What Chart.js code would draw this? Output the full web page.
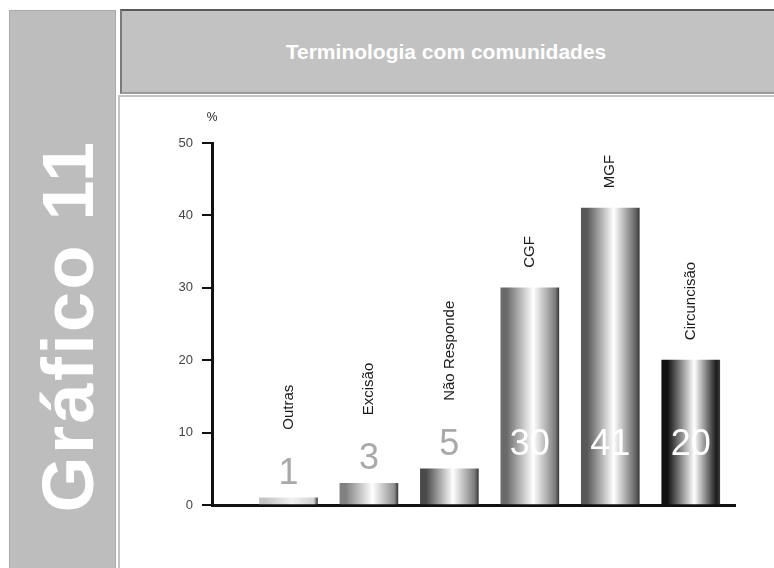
<!DOCTYPE html>
<html>
<head>
<meta charset="utf-8">
<script src="https://cdn.jsdelivr.net/npm/chart.js@4"></script>
<style>
  body { margin: 0; width: 774px; height: 568px; background: #fff; overflow: hidden; position: relative; font-family: "Liberation Sans", Arial, sans-serif; }
  #side { position: absolute; left: 9px; top: 10px; width: 105px; height: 570px; background: #bdbdbd; border: 1px solid #a9a9a9; }
  #sideText { position: absolute; left: 68px; top: 326px; transform: translate(-50%, -50%) rotate(-90deg); color: #fff; font-weight: bold; font-size: 72px; letter-spacing: 2.5px; white-space: nowrap; }
  #titleBar { position: absolute; left: 120px; top: 9px; width: 660px; height: 81px; background: #c2c2c2; border-top: 2px solid #5a5a5a; border-left: 2px solid #7a7a7a; border-bottom: 2px solid #9a9a9a; color: #fff; font-weight: bold; font-size: 21px; text-align: center; line-height: 81px; }
  #titleBar span { position: relative; left: -6px; }
  #panel { position: absolute; left: 118px; top: 95px; width: 670px; height: 480px; border-left: 2px solid #c4c4c4; border-top: 2px solid #c4c4c4; }
  #wrap { position: absolute; left: 121px; top: 98px; width: 653px; height: 470px; }
</style>
</head>
<body>
<div id="side"></div>
<div id="sideText">Gráfico 11</div>
<div id="titleBar"><span>Terminologia com comunidades</span></div>
<div id="panel"></div>
<div id="wrap"><canvas id="myChart" width="653" height="470"></canvas></div>
<script>
const labels = ['Outras', 'Excisão', 'Não Responde', 'CGF', 'MGF', 'Circuncisão'];
const values = [1, 3, 5, 30, 41, 20];
const yTicks = [0, 10, 20, 30, 40, 50];
const unitLabel = '%';

// edge shades of each cylinder-like bar (left, middle, right)
const leftShade = ['#c4c4c4', '#808080', '#4a4a4a', '#6a6a6a', '#585858', '#111111'];
const midShade = ['#f2f2f2', '#ffffff', '#ffffff', '#ffffff', '#ffffff', '#ffffff'];
const rightShade = ['#d2d2d2', '#8e8e8e', '#7a7a7a', '#7c7c7c', '#636363', '#1c1c1c'];

const BAR_W = 58;
const ctx = document.getElementById('myChart').getContext('2d');

function barFill(c) {
  const i = c.dataIndex;
  const chart = c.chart;
  if (!chart.chartArea || i === undefined) return leftShade[i] || '#888';
  const cx = chart.scales.x.getPixelForValue(i);
  const g = chart.ctx.createLinearGradient(cx - BAR_W / 2, 0, cx + BAR_W / 2, 0);
  g.addColorStop(0, leftShade[i]);
  g.addColorStop(0.1, leftShade[i]);
  g.addColorStop(0.56, midShade[i]);
  g.addColorStop(0.94, rightShade[i]);
  g.addColorStop(1, '#3a3a3a');
  return g;
}

const barLabels = {
  id: 'barLabels',
  afterDatasetsDraw(chart) {
    const c = chart.ctx;
    const yScale = chart.scales.y;
    const base = yScale.getPixelForValue(0);
    const meta = chart.getDatasetMeta(0);
    meta.data.forEach((bar, i) => {
      const top = bar.y;
      const inside = base - top > 90;
      const numBase = inside ? base - 50 : top - 14;
      c.save();
      c.font = '36px "Liberation Sans", Arial, sans-serif';
      c.textAlign = 'center';
      c.textBaseline = 'alphabetic';
      c.fillStyle = inside ? '#ffffff' : '#a9a9a9';
      c.fillText(String(values[i]), bar.x, numBase);
      const start = inside ? top - 20 : numBase - 26 - 28;
      c.translate(bar.x, start);
      c.rotate(-Math.PI / 2);
      c.font = '15px "Liberation Sans", Arial, sans-serif';
      c.fillStyle = '#1a1a1a';
      c.textAlign = 'left';
      c.textBaseline = 'middle';
      c.fillText(labels[i], 0, 0);
      c.restore();
    });
    // unit above the y axis
    c.save();
    c.font = '12px "Liberation Sans", Arial, sans-serif';
    c.fillStyle = '#222';
    c.textAlign = 'center';
    c.textBaseline = 'middle';
    c.fillText(unitLabel, chart.chartArea.left, yScale.getPixelForValue(50) - 25);
    c.restore();
  }
};

const data = {
  datasets: [{
    data: values.map((v, i) => ({ x: i, y: v })),
    backgroundColor: barFill,
    borderWidth: 0,
    barThickness: BAR_W
  }]
};

const config = {
  type: 'bar',
  data: data,
  options: {
    responsive: false,
    animation: false,
    layout: { padding: { left: 0, top: 45, right: 39, bottom: 63 } },
    plugins: { legend: { display: false }, tooltip: { enabled: false } },
    scales: {
      x: {
        type: 'linear',
        offset: false,
        min: -0.95,
        max: 5.55,
        ticks: { display: false },
        grid: { display: false },
        border: { display: true, color: '#111', width: 3 },
        afterFit(scale) { scale.height = 0; }
      },
      y: {
        min: 0,
        max: 50,
        afterBuildTicks(scale) { scale.ticks = yTicks.map(v => ({ value: v })); },
        ticks: { color: '#444', padding: 9, font: { size: 13, family: '"Liberation Sans", Arial, sans-serif' } },
        grid: { drawOnChartArea: false, drawTicks: true, tickLength: 10, lineWidth: 2, color: '#111' },
        border: { display: true, color: '#111', width: 3 },
        afterFit(scale) { scale.width = 91; }
      }
    }
  },
  plugins: [barLabels]
};

const myChart = new Chart(ctx, config);
</script>
</body>
</html>
